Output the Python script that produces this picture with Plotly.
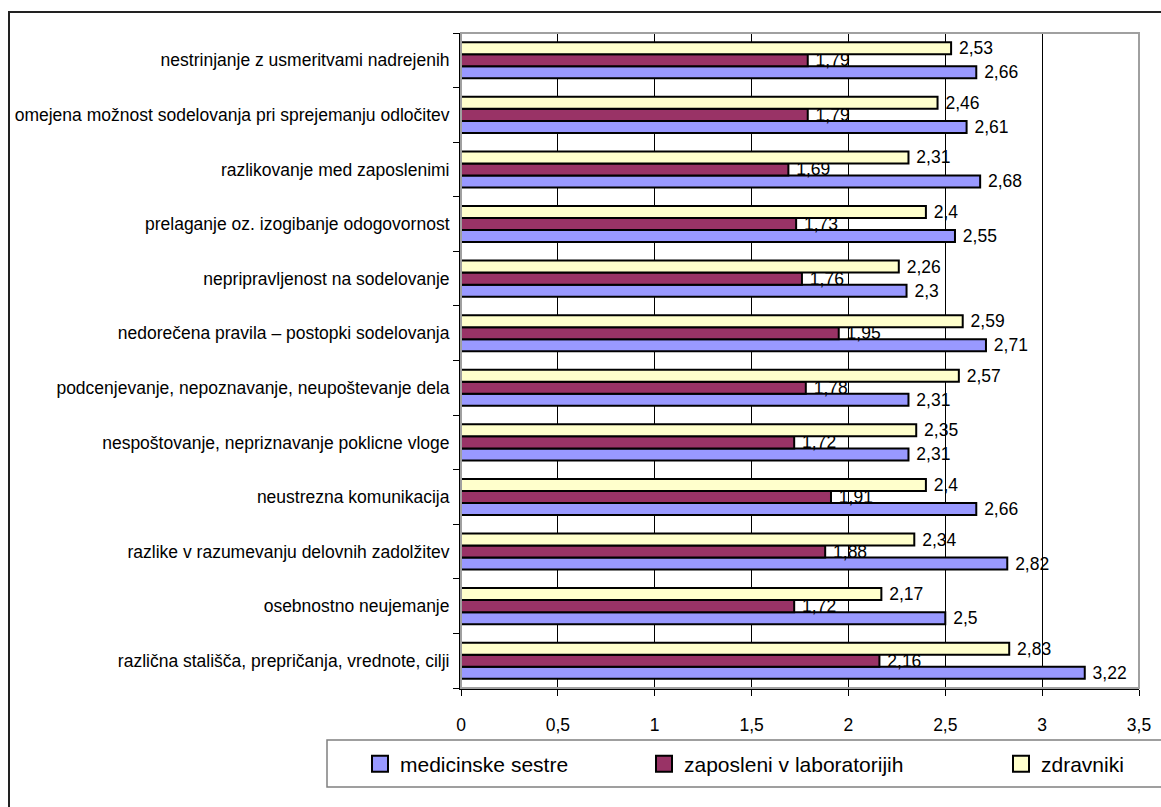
import plotly.graph_objects as go

# Survey items, listed top to bottom as they appear on the chart
categories = [
    "nestrinjanje z usmeritvami nadrejenih",
    "omejena možnost sodelovanja pri sprejemanju odločitev",
    "razlikovanje med zaposlenimi",
    "prelaganje oz. izogibanje odogovornost",
    "nepripravljenost na sodelovanje",
    "nedorečena pravila – postopki sodelovanja",
    "podcenjevanje, nepoznavanje, neupoštevanje dela",
    "nespoštovanje, nepriznavanje poklicne vloge",
    "neustrezna komunikacija",
    "razlike v razumevanju delovnih zadolžitev",
    "osebnostno neujemanje",
    "različna stališča, prepričanja, vrednote, cilji",
]

medicinske_sestre = [2.66, 2.61, 2.68, 2.55, 2.3, 2.71, 2.31, 2.31, 2.66, 2.82, 2.5, 3.22]
zaposleni_lab = [1.79, 1.79, 1.69, 1.73, 1.76, 1.95, 1.78, 1.72, 1.91, 1.88, 1.72, 2.16]
zdravniki = [2.53, 2.46, 2.31, 2.4, 2.26, 2.59, 2.57, 2.35, 2.4, 2.34, 2.17, 2.83]

series_names = ["medicinske sestre", "zaposleni v laboratorijih", "zdravniki"]
series_values = [medicinske_sestre, zaposleni_lab, zdravniki]
series_colors = ["#9999FF", "#993366", "#FFFFCC"]

x_ticks = [0, 0.5, 1, 1.5, 2, 2.5, 3, 3.5]

FONT = "Liberation Sans, Arial, sans-serif"

# pixel geometry of the plotting area
W, H = 1161, 807
L, R, T, B = 461, 1139, 33, 688


def px_x(X):
    return (X - L) / (R - L)


def px_y(Y):
    return (B - Y) / (B - T)


def fmt(v):
    return ("%g" % v).replace(".", ",")


fig = go.Figure()

# categories go bottom-up on the axis
cats_up = categories[::-1]
for name, vals, col in zip(series_names, series_values, series_colors):
    vals_up = vals[::-1]
    fig.add_trace(go.Bar(
        y=cats_up,
        x=vals_up,
        orientation="h",
        name=name,
        marker=dict(color=col, line=dict(color="black", width=2)),
        text=["\u00a0" + fmt(v) for v in vals_up],
        textposition="outside",
        textfont=dict(family=FONT, size=17.5, color="black"),
        constraintext="none",
        cliponaxis=False,
        showlegend=False,
    ))

# legend swatches, each in its own legend so the entries can be spaced freely
legend_text_x = [402, 686, 1043]
legend_names = ["legend", "legend2", "legend3"]
for name, col, lg in zip(series_names, series_colors, legend_names):
    fig.add_trace(go.Scatter(
        x=[None], y=[None], mode="markers", name=name, legend=lg,
        marker=dict(symbol="square", size=16, color=col,
                    line=dict(color="black", width=2)),
        showlegend=True,
    ))

legend_common = dict(
    font=dict(family=FONT, size=21, color="black"),
    bgcolor="rgba(0,0,0,0)",
    borderwidth=0,
    xanchor="left",
    yanchor="middle",
    y=px_y(764),
    itemsizing="trace",
)
layout_legends = {}
for lg, tx in zip(legend_names, legend_text_x):
    layout_legends[lg] = dict(x=px_x(tx - 42), **legend_common)

shapes = [
    # outer chart frame
    dict(type="rect", xref="paper", yref="paper",
         x0=px_x(9), x1=px_x(W + 10), y0=px_y(H + 10), y1=px_y(12),
         line=dict(color="#222222", width=2), layer="below"),
    # plot area frame
    dict(type="rect", xref="paper", yref="paper",
         x0=0, x1=1, y0=0, y1=1,
         line=dict(color="#A0A0A0", width=2), layer="above"),
    # legend box
    dict(type="rect", xref="paper", yref="paper",
         x0=px_x(327), x1=px_x(W + 10), y0=px_y(787), y1=px_y(740),
         line=dict(color="#808080", width=1.5), layer="below"),
]

fig.update_layout(
    width=W, height=H,
    margin=dict(l=L, r=W - R, t=T, b=H - B, pad=0),
    paper_bgcolor="white",
    plot_bgcolor="white",
    barmode="group",
    bargap=0.34,
    bargroupgap=0,
    separators=", ",
    font=dict(family=FONT, size=17, color="black"),
    shapes=shapes,
    **layout_legends,
)

fig.update_xaxes(
    range=[0, 3.5],
    tickvals=x_ticks,
    ticks="outside", ticklen=6, tickcolor="black", tickwidth=1,
    ticklabelstandoff=14,
    showgrid=True, gridcolor="black", gridwidth=1,
    showline=True, linecolor="black", linewidth=2,
    zeroline=False,
    automargin=False,
    tickfont=dict(family=FONT, size=17.5, color="black"),
)

fig.update_yaxes(
    type="category",
    categoryorder="array", categoryarray=cats_up,
    tickson="boundaries",
    ticks="outside", ticklen=6, tickcolor="black", tickwidth=1,
    ticklabelstandoff=6,
    showgrid=False,
    showline=True, linecolor="black", linewidth=2,
    automargin=False,
    tickfont=dict(family=FONT, size=17.5, color="black"),
)

fig.write_html("out.html")
